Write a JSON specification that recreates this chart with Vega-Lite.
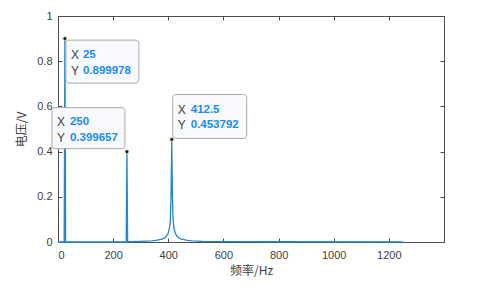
{
  "$schema": "https://vega.github.io/schema/vega-lite/v6.json",
  "width": 386,
  "height": 226,
  "autosize": {"type": "none"},
  "padding": {"left": 58, "top": 16, "right": 60, "bottom": 44},
  "background": "white",
  "config": {
    "view": {"stroke": "#4d4d4d", "strokeWidth": 1},
    "axis": {
      "domainColor": "#4d4d4d",
      "tickColor": "#4d4d4d",
      "labelColor": "#404040",
      "titleColor": "#404040",
      "labelFont": "Liberation Sans",
      "labelFontSize": 11,
      "grid": false
    }
  },
  "datasets": {
    "spec": [
      {"f": 0, "v": 0}, {"f": 22.5, "v": 0}, {"f": 25, "v": 0.899978}, {"f": 27.5, "v": 0},
      {"f": 247.5, "v": 0.001}, {"f": 250, "v": 0.399657}, {"f": 252.5, "v": 0.001},
      {"f": 300, "v": 0.003}, {"f": 340, "v": 0.005}, {"f": 360, "v": 0.008},
      {"f": 380, "v": 0.014}, {"f": 390, "v": 0.021}, {"f": 395, "v": 0.029},
      {"f": 400, "v": 0.04}, {"f": 405, "v": 0.066}, {"f": 407.5, "v": 0.1},
      {"f": 410, "v": 0.2}, {"f": 412.5, "v": 0.453792}, {"f": 415, "v": 0.2},
      {"f": 417.5, "v": 0.1}, {"f": 420, "v": 0.066}, {"f": 425, "v": 0.04},
      {"f": 430, "v": 0.029}, {"f": 435, "v": 0.021}, {"f": 445, "v": 0.014},
      {"f": 465, "v": 0.008}, {"f": 485, "v": 0.005}, {"f": 525, "v": 0.003},
      {"f": 600, "v": 0.002}, {"f": 800, "v": 0.001}, {"f": 1250, "v": 0.0005}
    ],
    "tips": [
      {"f": 25, "v": 0.899978},
      {"f": 250, "v": 0.399657},
      {"f": 412.5, "v": 0.453792}
    ]
  },
  "resolve": {"axis": {"x": "independent", "y": "independent"}},
  "layer": [
    {
      "data": {"name": "spec"},
      "mark": {"type": "line", "color": "#2585cc", "strokeWidth": 1.3, "interpolate": "linear"},
      "encoding": {
        "x": {"field": "f", "type": "quantitative", "scale": {"domain": [0, 1400], "nice": false},
          "axis": {"values": [0, 200, 400, 600, 800, 1000, 1200], "format": "d", "tickSize": -4, "labelPadding": 11,
            "title": "频率/Hz", "titleFont": "Noto Sans CJK SC", "titleFontSize": 12, "titleFontWeight": "normal", "titlePadding": 5}},
        "y": {"field": "v", "type": "quantitative", "scale": {"domain": [0, 1], "nice": false},
          "axis": {"values": [0, 0.2, 0.4, 0.6, 0.8, 1], "format": "~g", "tickSize": -4, "labelPadding": 10,
            "title": "电压/V", "titleFont": "Noto Sans CJK SC", "titleFontSize": 12, "titleFontWeight": "normal", "titlePadding": 8}}
      }
    },
    {
      "data": {"name": "spec"},
      "mark": {"type": "point", "opacity": 0},
      "encoding": {
        "x": {"field": "f", "type": "quantitative", "scale": {"domain": [0, 1400], "nice": false},
          "axis": {"orient": "top", "values": [0, 200, 400, 600, 800, 1000, 1200], "labels": false, "tickSize": -4, "title": null}},
        "y": {"field": "v", "type": "quantitative", "scale": {"domain": [0, 1], "nice": false},
          "axis": {"orient": "right", "values": [0, 0.2, 0.4, 0.6, 0.8, 1], "labels": false, "tickSize": -4, "title": null}}
      }
    },
    {
      "data": {"name": "tips"},
      "transform": [{"filter": "datum.f == 25"}],
      "encoding": {
        "x": {"field": "f", "type": "quantitative", "axis": null},
        "y": {"field": "v", "type": "quantitative", "axis": null}
      },
      "layer": [
        {"mark": {"type": "point", "shape": "M1,4.5 a3,3 0 0 1 3,-3 h67 a3,3 0 0 1 3,3 v37 a3,3 0 0 1 -3,3 h-67 a3,3 0 0 1 -3,-3 Z", "size": 4, "filled": true, "fill": "#f8f9fc", "stroke": "#a8a8a8", "strokeWidth": 1, "opacity": 1}},
        {"mark": {"type": "point", "shape": "circle", "size": 14, "filled": true, "fill": "#111111", "stroke": "#e0d890", "strokeWidth": 0.8, "opacity": 1}},
        {"mark": {"type": "text", "text": "X", "align": "left", "baseline": "middle", "dx": 6, "dy": 16, "font": "Liberation Sans", "fontSize": 12, "color": "#404040"}},
        {"mark": {"type": "text", "text": "Y", "align": "left", "baseline": "middle", "dx": 6, "dy": 32, "font": "Liberation Sans", "fontSize": 12, "color": "#404040"}},
        {"mark": {"type": "text", "align": "left", "baseline": "middle", "dx": 18, "dy": 16, "font": "Liberation Sans", "fontSize": 11.5, "fontWeight": "bold", "color": "#1a8cf0"}, "encoding": {"text": {"field": "f", "type": "nominal"}}},
        {"mark": {"type": "text", "align": "left", "baseline": "middle", "dx": 18, "dy": 32, "font": "Liberation Sans", "fontSize": 11.5, "fontWeight": "bold", "color": "#1a8cf0"}, "encoding": {"text": {"field": "v", "type": "nominal"}}}
      ]
    },
    {
      "data": {"name": "tips"},
      "transform": [{"filter": "datum.f == 250"}],
      "encoding": {
        "x": {"field": "f", "type": "quantitative", "axis": null},
        "y": {"field": "v", "type": "quantitative", "axis": null}
      },
      "layer": [
        {"mark": {"type": "point", "shape": "M-75,-41 a3,3 0 0 1 3,-3 h67 a3,3 0 0 1 3,3 v35 a3,3 0 0 1 -3,3 h-67 a3,3 0 0 1 -3,-3 Z", "size": 4, "filled": true, "fill": "#f8f9fc", "stroke": "#a8a8a8", "strokeWidth": 1, "opacity": 1}},
        {"mark": {"type": "point", "shape": "circle", "size": 14, "filled": true, "fill": "#111111", "stroke": "#e0d890", "strokeWidth": 0.8, "opacity": 1}},
        {"mark": {"type": "text", "text": "X", "align": "left", "baseline": "middle", "dx": -70, "dy": -30, "font": "Liberation Sans", "fontSize": 12, "color": "#404040"}},
        {"mark": {"type": "text", "text": "Y", "align": "left", "baseline": "middle", "dx": -70, "dy": -14, "font": "Liberation Sans", "fontSize": 12, "color": "#404040"}},
        {"mark": {"type": "text", "align": "left", "baseline": "middle", "dx": -57, "dy": -30, "font": "Liberation Sans", "fontSize": 11.5, "fontWeight": "bold", "color": "#1a8cf0"}, "encoding": {"text": {"field": "f", "type": "nominal"}}},
        {"mark": {"type": "text", "align": "left", "baseline": "middle", "dx": -57, "dy": -14, "font": "Liberation Sans", "fontSize": 11.5, "fontWeight": "bold", "color": "#1a8cf0"}, "encoding": {"text": {"field": "v", "type": "nominal"}}}
      ]
    },
    {
      "data": {"name": "tips"},
      "transform": [{"filter": "datum.f == 412.5"}],
      "encoding": {
        "x": {"field": "f", "type": "quantitative", "axis": null},
        "y": {"field": "v", "type": "quantitative", "axis": null}
      },
      "layer": [
        {"mark": {"type": "point", "shape": "M1,-42 a3,3 0 0 1 3,-3 h68 a3,3 0 0 1 3,3 v38 a3,3 0 0 1 -3,3 h-68 a3,3 0 0 1 -3,-3 Z", "size": 4, "filled": true, "fill": "#f8f9fc", "stroke": "#a8a8a8", "strokeWidth": 1, "opacity": 1}},
        {"mark": {"type": "point", "shape": "circle", "size": 14, "filled": true, "fill": "#111111", "stroke": "#e0d890", "strokeWidth": 0.8, "opacity": 1}},
        {"mark": {"type": "text", "text": "X", "align": "left", "baseline": "middle", "dx": 6, "dy": -29, "font": "Liberation Sans", "fontSize": 12, "color": "#404040"}},
        {"mark": {"type": "text", "text": "Y", "align": "left", "baseline": "middle", "dx": 6, "dy": -14, "font": "Liberation Sans", "fontSize": 12, "color": "#404040"}},
        {"mark": {"type": "text", "align": "left", "baseline": "middle", "dx": 19, "dy": -29, "font": "Liberation Sans", "fontSize": 11.5, "fontWeight": "bold", "color": "#1a8cf0"}, "encoding": {"text": {"field": "f", "type": "nominal"}}},
        {"mark": {"type": "text", "align": "left", "baseline": "middle", "dx": 19, "dy": -14, "font": "Liberation Sans", "fontSize": 11.5, "fontWeight": "bold", "color": "#1a8cf0"}, "encoding": {"text": {"field": "v", "type": "nominal"}}}
      ]
    }
  ]
}
